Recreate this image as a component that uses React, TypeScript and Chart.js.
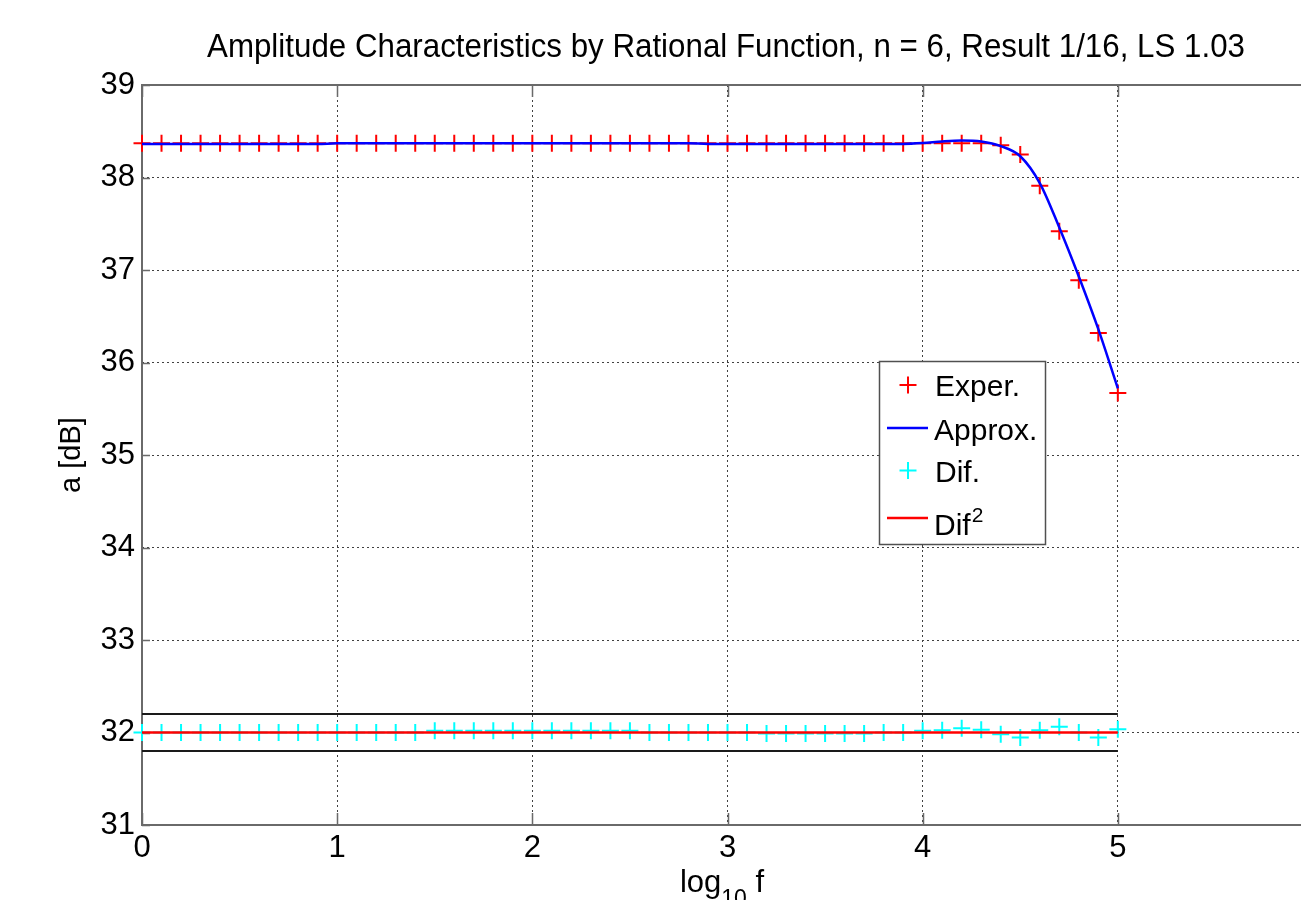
import React, { useEffect, useRef } from 'react';
import { Chart, registerables } from 'chart.js';

Chart.register(...registerables);

// ---------------- data ----------------
const xValues = [
  0.0, 0.1, 0.2, 0.3, 0.4, 0.5, 0.6, 0.7, 0.8, 0.9,
  1.0, 1.1, 1.2, 1.3, 1.4, 1.5, 1.6, 1.7, 1.8, 1.9,
  2.0, 2.1, 2.2, 2.3, 2.4, 2.5, 2.6, 2.7, 2.8, 2.9,
  3.0, 3.1, 3.2, 3.3, 3.4, 3.5, 3.6, 3.7, 3.8, 3.9,
  4.0, 4.1, 4.2, 4.3, 4.4, 4.5, 4.6, 4.7, 4.8, 4.9,
  5.0,
];

const experValues = [
  38.37, 38.37, 38.37, 38.37, 38.37, 38.37, 38.37, 38.37, 38.37, 38.37,
  38.37, 38.37, 38.37, 38.37, 38.37, 38.37, 38.37, 38.37, 38.37, 38.37,
  38.37, 38.37, 38.37, 38.37, 38.37, 38.37, 38.37, 38.37, 38.37, 38.37,
  38.37, 38.37, 38.37, 38.37, 38.37, 38.37, 38.37, 38.37, 38.37, 38.37,
  38.37, 38.37, 38.37, 38.37, 38.35, 38.25, 37.91, 37.42, 36.89, 36.32,
  35.67,
];

const approxValues = [
  38.362, 38.362, 38.362, 38.362, 38.362, 38.362, 38.362, 38.362, 38.362, 38.362,
  38.37, 38.37, 38.37, 38.37, 38.37, 38.37, 38.37, 38.37, 38.37, 38.37,
  38.37, 38.37, 38.37, 38.37, 38.37, 38.37, 38.37, 38.37, 38.37, 38.363,
  38.363, 38.363, 38.363, 38.363, 38.363, 38.363, 38.363, 38.363, 38.363, 38.363,
  38.372, 38.39, 38.40, 38.39, 38.34, 38.23, 37.94, 37.46, 36.93, 36.36,
  35.72,
];

const difValues = [
  32.0, 32.0, 32.0, 32.0, 32.0, 32.0, 32.0, 32.0, 32.0, 32.0,
  32.0, 32.0, 32.0, 32.0, 32.0, 32.02, 32.02, 32.02, 32.02, 32.02,
  32.02, 32.02, 32.02, 32.02, 32.02, 32.02, 32.0, 32.0, 32.0, 32.0,
  32.0, 32.0, 31.988, 31.988, 31.988, 31.988, 31.988, 31.988, 32.0, 32.0,
  32.018, 32.025, 32.047, 32.029, 31.982, 31.946, 32.025, 32.061, 32.0, 31.946,
  32.036,
];

const dif2Values = [
  32.0, 32.0, 32.0, 32.0, 32.0, 32.0, 32.0, 32.0, 32.0, 32.0,
  32.0, 32.0, 32.0, 32.0, 32.0, 32.0, 32.0, 32.0, 32.0, 32.0,
  32.0, 32.0, 32.0, 32.0, 32.0, 32.0, 32.0, 32.0, 32.0, 32.0,
  32.0, 32.0, 32.0, 32.0, 32.0, 32.0, 32.0, 32.0, 32.0, 32.0,
  32.0, 32.0, 32.0, 32.0, 32.0, 32.0, 32.0, 32.0, 32.0, 32.0,
  32.0,
];

const boundX = [0, 5];
const upperBound = [32.2, 32.2];
const lowerBound = [31.8, 31.8];

const xTickValues = [0, 1, 2, 3, 4, 5];
const xTickLabels = ['0', '1', '2', '3', '4', '5'];
const yTickValues = [31, 32, 33, 34, 35, 36, 37, 38, 39];
const yTickLabels = ['31', '32', '33', '34', '35', '36', '37', '38', '39'];

const titleText = 'Amplitude Characteristics by Rational Function, n = 6, Result 1/16, LS 1.03';
const yLabelText = 'a [dB]';
const legendLabels = ['Exper.', 'Approx.', 'Dif.', 'Dif'];

// ---------------- helpers ----------------
const FONT = '"Liberation Sans", Arial, Helvetica, sans-serif';
const pts = (xs: number[], ys: number[]) => xs.map((x, i) => ({ x, y: ys[i] }));

function drawCross(ctx: CanvasRenderingContext2D, x: number, y: number, r: number, color: string) {
  ctx.save();
  ctx.strokeStyle = color;
  ctx.lineWidth = 2;
  ctx.beginPath();
  ctx.moveTo(x - r, y);
  ctx.lineTo(x + r, y);
  ctx.moveTo(x, y - r);
  ctx.lineTo(x, y + r);
  ctx.stroke();
  ctx.restore();
}

const matlabPlugin = {
  id: 'matlabDecor',
  beforeDatasetsDraw(chart: any) {
    const { ctx, chartArea } = chart;
    const xs = chart.scales.x;
    const ys = chart.scales.y;
    ctx.save();
    ctx.strokeStyle = '#6a6a6a';
    ctx.lineWidth = 2;
    ctx.strokeRect(chartArea.left, chartArea.top, chartArea.right - chartArea.left, chartArea.bottom - chartArea.top);
    ctx.lineWidth = 1.5;
    ctx.beginPath();
    xTickValues.forEach((v) => {
      const px = Math.round(xs.getPixelForValue(v)) + 0.5;
      ctx.moveTo(px, chartArea.bottom);
      ctx.lineTo(px, chartArea.bottom - 12);
      ctx.moveTo(px, chartArea.top);
      ctx.lineTo(px, chartArea.top + 12);
    });
    yTickValues.forEach((v) => {
      const py = Math.round(ys.getPixelForValue(v)) + 0.5;
      ctx.moveTo(chartArea.left, py);
      ctx.lineTo(chartArea.left + 8, py);
      ctx.moveTo(chartArea.right, py);
      ctx.lineTo(chartArea.right - 8, py);
    });
    ctx.stroke();
    ctx.restore();
  },
  afterDraw(chart: any) {
    const { ctx } = chart;
    ctx.save();
    ctx.fillStyle = '#000';
    ctx.textBaseline = 'alphabetic';

    // Title (stretched to the reference width)
    ctx.font = `33px ${FONT}`;
    const tw = ctx.measureText(titleText).width;
    const sx = 1038 / tw;
    ctx.save();
    ctx.translate(726, 57);
    ctx.scale(sx, 1);
    ctx.textAlign = 'center';
    ctx.fillText(titleText, 0, 0);
    ctx.restore();

    // y label
    ctx.save();
    ctx.translate(80, 455);
    ctx.rotate(-Math.PI / 2);
    ctx.font = `29px ${FONT}`;
    ctx.textAlign = 'center';
    ctx.textBaseline = 'alphabetic';
    ctx.fillText(yLabelText, 0, 0);
    ctx.restore();

    // x label: log10 f
    ctx.save();
    ctx.textAlign = 'left';
    ctx.font = `31px ${FONT}`;
    const wLog = ctx.measureText('log').width;
    ctx.font = `23px ${FONT}`;
    const wSub = ctx.measureText('10').width;
    ctx.font = `31px ${FONT}`;
    const wF = ctx.measureText(' f').width;
    const total = wLog + wSub + wF;
    let xx = 722 - total / 2;
    ctx.fillText('log', xx, 892);
    xx += wLog;
    ctx.font = `23px ${FONT}`;
    ctx.fillText('10', xx, 906);
    xx += wSub;
    ctx.font = `31px ${FONT}`;
    ctx.fillText(' f', xx, 892);
    ctx.restore();

    // Legend
    ctx.save();
    ctx.fillStyle = '#fff';
    ctx.fillRect(879.5, 361.5, 166, 183);
    ctx.strokeStyle = '#505050';
    ctx.lineWidth = 1.5;
    ctx.strokeRect(879.5, 361.5, 166, 183);
    drawCross(ctx, 908, 385, 8.5, '#ff0000');
    ctx.strokeStyle = '#0000ff';
    ctx.lineWidth = 2.5;
    ctx.beginPath();
    ctx.moveTo(887, 428);
    ctx.lineTo(928, 428);
    ctx.stroke();
    drawCross(ctx, 908, 470.5, 8.5, '#00ffff');
    ctx.strokeStyle = '#ff0000';
    ctx.lineWidth = 2.5;
    ctx.beginPath();
    ctx.moveTo(887, 518);
    ctx.lineTo(928, 518);
    ctx.stroke();
    ctx.fillStyle = '#000';
    ctx.textAlign = 'left';
    ctx.font = `30px ${FONT}`;
    ctx.fillText(legendLabels[0], 935, 396);
    ctx.fillText(legendLabels[1], 934, 440);
    ctx.fillText(legendLabels[2], 935, 482);
    ctx.fillText(legendLabels[3], 934, 535);
    const wDif = ctx.measureText(legendLabels[3]).width;
    ctx.font = `21px ${FONT}`;
    ctx.fillText('2', 934 + wDif + 1, 522);
    ctx.restore();

    ctx.restore();
  },
};

export default function App() {
  const canvasRef = useRef<HTMLCanvasElement | null>(null);

  useEffect(() => {
    const canvas = canvasRef.current;
    if (!canvas) return;
    const tickFont = { family: FONT, size: 31 };
    const chart = new Chart(canvas, {
      type: 'scatter',
      data: {
        datasets: [
          {
            label: 'Dif2',
            data: pts(xValues, dif2Values),
            showLine: true,
            borderColor: '#ff0000',
            borderWidth: 2.5,
            pointRadius: 0,
            clip: false,
          },
          {
            label: 'Dif.',
            data: pts(xValues, difValues),
            showLine: false,
            pointStyle: 'cross',
            pointRadius: 8.5,
            pointBorderWidth: 2,
            pointBorderColor: '#00ffff',
            pointBackgroundColor: '#00ffff',
            clip: false,
          },
          {
            label: 'Approx.',
            data: pts(xValues, approxValues),
            showLine: true,
            borderColor: '#0000ff',
            borderWidth: 2.5,
            pointRadius: 0,
            cubicInterpolationMode: 'monotone',
            clip: false,
          },
          {
            label: 'Exper.',
            data: pts(xValues, experValues),
            showLine: false,
            pointStyle: 'cross',
            pointRadius: 8.5,
            pointBorderWidth: 2,
            pointBorderColor: '#ff0000',
            pointBackgroundColor: '#ff0000',
            clip: false,
          },
          {
            label: 'upper',
            data: pts(boundX, upperBound),
            showLine: true,
            borderColor: '#1a1a1a',
            borderWidth: 2,
            pointRadius: 0,
            clip: false,
          },
          {
            label: 'lower',
            data: pts(boundX, lowerBound),
            showLine: true,
            borderColor: '#1a1a1a',
            borderWidth: 2,
            pointRadius: 0,
            clip: false,
          },
        ],
      } as any,
      options: {
        responsive: false,
        maintainAspectRatio: false,
        animation: false,
        devicePixelRatio: 1,
        events: [],
        layout: { padding: { top: 85, left: 0, right: 17, bottom: 0 } },
        plugins: {
          legend: { display: false },
          title: { display: false },
          tooltip: { enabled: false },
        },
        scales: {
          x: {
            type: 'linear',
            min: 0,
            max: 6,
            afterFit(scale: any) {
              scale.height = 75;
            },
            afterBuildTicks(scale: any) {
              scale.ticks = [...xTickValues, 6].map((v) => ({ value: v }));
            },
            ticks: {
              font: tickFont,
              color: '#000',
              padding: 5,
              maxRotation: 0,
              autoSkip: false,
              callback: (v: any) => {
                const i = xTickValues.indexOf(Number(v));
                return i >= 0 ? xTickLabels[i] : '';
              },
            },
            grid: { color: '#404040', lineWidth: 1, drawTicks: false },
            border: { display: false, dash: [2, 3] },
          },
          y: {
            type: 'linear',
            min: 31,
            max: 39,
            afterFit(scale: any) {
              scale.width = 142;
            },
            afterBuildTicks(scale: any) {
              scale.ticks = yTickValues.map((v) => ({ value: v }));
            },
            ticks: {
              font: tickFont,
              color: '#000',
              padding: 7,
              autoSkip: false,
              callback: (v: any) => {
                const i = yTickValues.indexOf(Number(v));
                return i >= 0 ? yTickLabels[i] : '';
              },
            },
            grid: { color: '#404040', lineWidth: 1, drawTicks: false },
            border: { display: false, dash: [2, 3] },
          },
        },
      } as any,
      plugins: [matlabPlugin],
    });
    return () => chart.destroy();
  }, []);

  return (
    <div
      style={{
        position: 'absolute',
        left: 0,
        top: 0,
        width: 1301,
        height: 900,
        overflow: 'hidden',
        background: '#ffffff',
      }}
    >
      <canvas ref={canvasRef} width={1330} height={900} style={{ display: 'block', width: 1330, height: 900 }} />
    </div>
  );
}
